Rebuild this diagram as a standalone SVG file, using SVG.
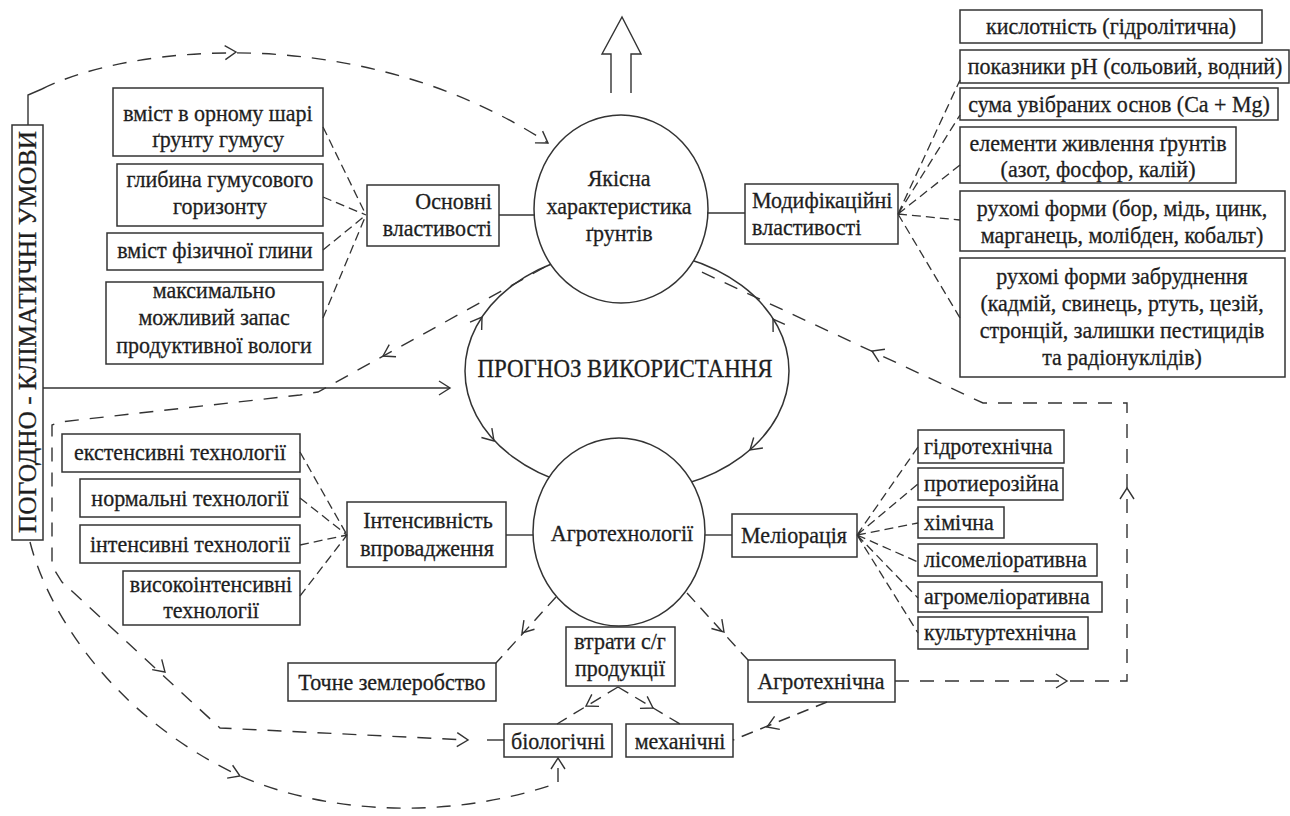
<svg xmlns="http://www.w3.org/2000/svg" xmlns:xlink="http://www.w3.org/1999/xlink" width="1290" height="816" viewBox="0 0 1290 816">
<defs>
<style>
.box{fill:#fff;stroke:#333;stroke-width:1.5}
.t{font-family:'Liberation Serif','Tinos','Times New Roman',serif;font-size:24px;fill:#1e1e1e;stroke:#1e1e1e;stroke-width:0.3}
.n{transform:scale(0.9167,1)}
.c{text-anchor:middle}
.e{text-anchor:end}
.ln{fill:none;stroke:#333;stroke-width:1.4}
.dash{fill:none;stroke:#333;stroke-width:1.4;stroke-dasharray:14 11}
.fan{fill:none;stroke:#333;stroke-width:1.3;stroke-dasharray:9 5}
.ch{fill:none;stroke:#333;stroke-width:1.4}
.circ{fill:#fff;stroke:#333;stroke-width:1.5}
</style>
<path id="chev" class="ch" d="M-11,-7 L0,0 L-11,7"/>
</defs>
<rect width="1290" height="816" fill="#fff"/>

<g id="prognoz">
<ellipse cx="627" cy="371" rx="162" ry="121" fill="none" stroke="#333" stroke-width="1.5"/>
<text class="t c" transform="scale(0.9167,1)" x="681.8" y="377" style="font-size:25px">ПРОГНОЗ ВИКОРИСТАННЯ</text>
</g>
<g id="yakisna">
<ellipse class="circ" cx="621" cy="209" rx="87" ry="94"/>
<g transform="scale(0.9167,1)">
<text class="t c" x="675.3" y="186">Якісна</text>
<text class="t c" x="675.3" y="214">характеристика</text>
<text class="t c" x="675.3" y="241">ґрунтів</text>
</g>
</g>
<g id="agro">
<ellipse class="circ" cx="619" cy="532" rx="86" ry="94"/>
<text class="t c" transform="scale(0.9167,1)" x="678.5" y="541">Агротехнології</text>
</g>

<g id="pogodno">
<rect class="box" x="12" y="125" width="31" height="415"/>
<text class="t c" transform="translate(36,332) rotate(-90)" x="0" y="0" style="font-size:25px" textLength="402" lengthAdjust="spacingAndGlyphs">ПОГОДНО - КЛІМАТИЧНІ УМОВИ</text>
</g>

<g id="n-humus"><rect class="box" x="113" y="88" width="210" height="68"/>
<g transform="scale(0.9167,1)"><text class="t c" x="237.8" y="121">вміст в орному шарі</text><text class="t c" x="237.8" y="147">ґрунту гумусу</text></g></g>
<g id="n-glybyna"><rect class="box" x="117" y="164" width="206" height="62"/>
<g transform="scale(0.9167,1)"><text class="t c" x="240" y="187">глибина гумусового</text><text class="t c" x="240" y="214">горизонту</text></g></g>
<g id="n-glyna"><rect class="box" x="107" y="233" width="216" height="37"/>
<g transform="scale(0.9167,1)"><text class="t c" x="234.5" y="258">вміст фізичної глини</text></g></g>
<g id="n-zapas"><rect class="box" x="106" y="282" width="217" height="82"/>
<g transform="scale(0.9167,1)"><text class="t c" x="233.5" y="298">максимально</text><text class="t c" x="233.5" y="325">можливий запас</text><text class="t c" x="233.5" y="353">продуктивної вологи</text></g></g>
<g id="n-osnovni"><rect class="box" x="367" y="185" width="132" height="61"/>
<g transform="scale(0.9167,1)"><text class="t e" x="536.7" y="209">Основні</text><text class="t e" x="536.7" y="236">властивості</text></g></g>

<g id="n-modyf"><rect class="box" x="745" y="184" width="153" height="60"/>
<g transform="scale(0.9167,1)"><text class="t" x="820.4" y="208">Модифікаційні</text><text class="t" x="820.4" y="235">властивості</text></g></g>
<g id="r1"><rect class="box" x="960" y="10" width="302" height="33"/>
<g transform="scale(0.9167,1)"><text class="t c" x="1212" y="34">кислотність (гідролітична)</text></g></g>
<g id="r2"><rect class="box" x="960" y="50" width="329" height="33"/>
<g transform="scale(0.9167,1)"><text class="t c" x="1227.3" y="74">показники рН (сольовий, водний)</text></g></g>
<g id="r3"><rect class="box" x="960" y="88" width="318" height="32"/>
<g transform="scale(0.9167,1)"><text class="t c" x="1220.7" y="112">сума увібраних основ (Ca + Mg)</text></g></g>
<g id="r4"><rect class="box" x="960" y="127" width="276" height="56"/>
<g transform="scale(0.9167,1)"><text class="t c" x="1197.8" y="151">елементи живлення ґрунтів</text><text class="t c" x="1197.8" y="177">(азот, фосфор, калій)</text></g></g>
<g id="r5"><rect class="box" x="960" y="191" width="325" height="60"/>
<g transform="scale(0.9167,1)"><text class="t c" x="1224" y="216">рухомі форми (бор, мідь, цинк,</text><text class="t c" x="1224" y="243">марганець, молібден, кобальт)</text></g></g>
<g id="r6"><rect class="box" x="960" y="258" width="325" height="119"/>
<g transform="scale(0.9167,1)"><text class="t c" x="1224" y="284">рухомі форми забруднення</text><text class="t c" x="1224" y="311">(кадмій, свинець, ртуть, цезій,</text><text class="t c" x="1224" y="338">стронцій, залишки пестицидів</text><text class="t c" x="1224" y="365">та радіонуклідів)</text></g></g>

<g id="n-intens"><rect class="box" x="347" y="502" width="159" height="65"/>
<g transform="scale(0.9167,1)"><text class="t c" x="466.9" y="528">Інтенсивність</text><text class="t c" x="465.8" y="556">впровадження</text></g></g>
<g id="b1"><rect class="box" x="62" y="434" width="238" height="38"/>
<g transform="scale(0.9167,1)"><text class="t c" x="196.4" y="460">екстенсивні технології</text></g></g>
<g id="b2"><rect class="box" x="80" y="479" width="220" height="38"/>
<g transform="scale(0.9167,1)"><text class="t c" x="207.3" y="506">нормальні технології</text></g></g>
<g id="b3"><rect class="box" x="80" y="525" width="220" height="38"/>
<g transform="scale(0.9167,1)"><text class="t c" x="207.3" y="552">інтенсивні технології</text></g></g>
<g id="b4"><rect class="box" x="123" y="571" width="177" height="54"/>
<g transform="scale(0.9167,1)"><text class="t c" x="230.2" y="592">високоінтенсивні</text><text class="t c" x="230.2" y="618">технології</text></g></g>

<g id="n-melior"><rect class="box" x="732" y="514" width="125" height="43"/>
<g transform="scale(0.9167,1)"><text class="t c" x="866.2" y="543">Меліорація</text></g></g>
<g id="m1"><rect class="box" x="918" y="430" width="146" height="33"/><g transform="scale(0.9167,1)"><text class="t" x="1008" y="454">гідротехнічна</text></g></g>
<g id="m2"><rect class="box" x="918" y="468" width="145" height="32"/><g transform="scale(0.9167,1)"><text class="t" x="1008" y="491">протиерозійна</text></g></g>
<g id="m3"><rect class="box" x="918" y="507" width="86" height="31"/><g transform="scale(0.9167,1)"><text class="t" x="1008" y="530">хімічна</text></g></g>
<g id="m4"><rect class="box" x="918" y="544" width="179" height="32"/><g transform="scale(0.9167,1)"><text class="t" x="1008" y="567">лісомеліоративна</text></g></g>
<g id="m5"><rect class="box" x="918" y="582" width="184" height="30"/><g transform="scale(0.9167,1)"><text class="t" x="1008" y="604">агромеліоративна</text></g></g>
<g id="m6"><rect class="box" x="918" y="617" width="170" height="32"/><g transform="scale(0.9167,1)"><text class="t" x="1008" y="640">культуртехнічна</text></g></g>

<g id="n-agrotechnichna"><rect class="box" x="748" y="660" width="147" height="42"/>
<g transform="scale(0.9167,1)"><text class="t c" x="895.6" y="689">Агротехнічна</text></g></g>
<g id="n-tochne"><rect class="box" x="288" y="663" width="208" height="38"/>
<g transform="scale(0.9167,1)"><text class="t c" x="427.6" y="690">Точне землеробство</text></g></g>
<g id="n-vtraty"><rect class="box" x="566" y="627" width="109" height="59"/>
<g transform="scale(0.9167,1)"><text class="t c" x="676.4" y="649">втрати с/г</text><text class="t c" x="676.4" y="676">продукції</text></g></g>
<g id="n-biol"><rect class="box" x="504" y="724" width="108" height="33"/>
<g transform="scale(0.9167,1)"><text class="t c" x="608.7" y="749">біологічні</text></g></g>
<g id="n-mech"><rect class="box" x="626" y="724" width="107" height="33"/>
<g transform="scale(0.9167,1)"><text class="t c" x="741.8" y="749">механічні</text></g></g>

<g id="connectors">
<polyline class="ln" points="611,93 611,54 602,54 622,17 641,54 631,54 631,93"/>
<line class="ln" x1="499" y1="215" x2="535" y2="215"/>
<line class="ln" x1="707" y1="213" x2="745" y2="213"/>
<line class="ln" x1="506" y1="535" x2="533" y2="535"/>
<line class="ln" x1="705" y1="535" x2="732" y2="535"/>
<line class="ln" x1="43" y1="388" x2="450" y2="388"/>
<use xlink:href="#chev" transform="translate(450,388)"/>
<path class="fan" d="M323,127 L366,215 M323,197 L366,215 M323,250 L366,215 M323,318 L366,215"/>
<path class="fan" d="M898,214 L960,80 M898,214 L960,115 M898,214 L960,165 M898,214 L960,220 M898,214 L960,318"/>
<path class="fan" d="M300,452 L347,535 M300,498 L347,535 M300,545 L347,535 M300,596 L347,535"/>
<path class="fan" d="M857,535 L918,447 M857,535 L918,484 M857,535 L918,523 M857,535 L918,562 M857,535 L918,598 M857,535 L918,633"/>
<polyline class="ln" points="28,125 28,95 42,89"/>
<path class="dash" d="M42,89 C130,45 360,20 548,143"/>
<use xlink:href="#chev" transform="translate(236,52) rotate(-3)"/>
<use xlink:href="#chev" transform="translate(548,143) rotate(33)"/>
<path class="dash" d="M545,267 L318,392 L300,395 L60,422 L52,425 L52,566 L62,582 L220,728 L468,740"/>
<line class="ln" x1="487" y1="740" x2="504" y2="740"/>
<use xlink:href="#chev" transform="translate(383,356) rotate(151)"/>
<use xlink:href="#chev" transform="translate(165,672) rotate(43)"/>
<use xlink:href="#chev" transform="translate(468,740) rotate(2)"/>
<path class="dash" d="M30,542 C50,620 120,720 240,776 C330,815 450,820 558,783 L558,758"/>
<use xlink:href="#chev" transform="translate(240,776) rotate(23)"/>
<use xlink:href="#chev" transform="translate(558,758) rotate(-90)"/>
<path class="dash" d="M895,681 L1127,681 L1127,403 L983,403 L693,268"/>
<use xlink:href="#chev" transform="translate(1067,681)"/>
<use xlink:href="#chev" transform="translate(1127,488) rotate(-90)"/>
<use xlink:href="#chev" transform="translate(872,351) rotate(-155)"/>
<use xlink:href="#chev" transform="translate(482,317) rotate(-56)"/>
<use xlink:href="#chev" transform="translate(773,319) rotate(-123)"/>
<use xlink:href="#chev" transform="translate(494,441) rotate(48)"/>
<use xlink:href="#chev" transform="translate(750,450) rotate(139)"/>
<path class="dash" d="M556,597 L496,663" style="stroke-dasharray:12 8"/>
<use xlink:href="#chev" transform="translate(522,633) rotate(131)"/>
<path class="dash" d="M687,593 L748,660" style="stroke-dasharray:12 8"/>
<use xlink:href="#chev" transform="translate(724,632) rotate(48)"/>
<path class="dash" d="M618,687 L557,724 M618,687 L680,724" style="stroke-dasharray:12 8"/>
<use xlink:href="#chev" transform="translate(586,706) rotate(149)"/>
<use xlink:href="#chev" transform="translate(653,708) rotate(31)"/>
<path class="dash" d="M827,702 L733,740" style="stroke-dasharray:12 8"/>
<use xlink:href="#chev" transform="translate(767,727) rotate(158)"/>
</g>
</svg>
